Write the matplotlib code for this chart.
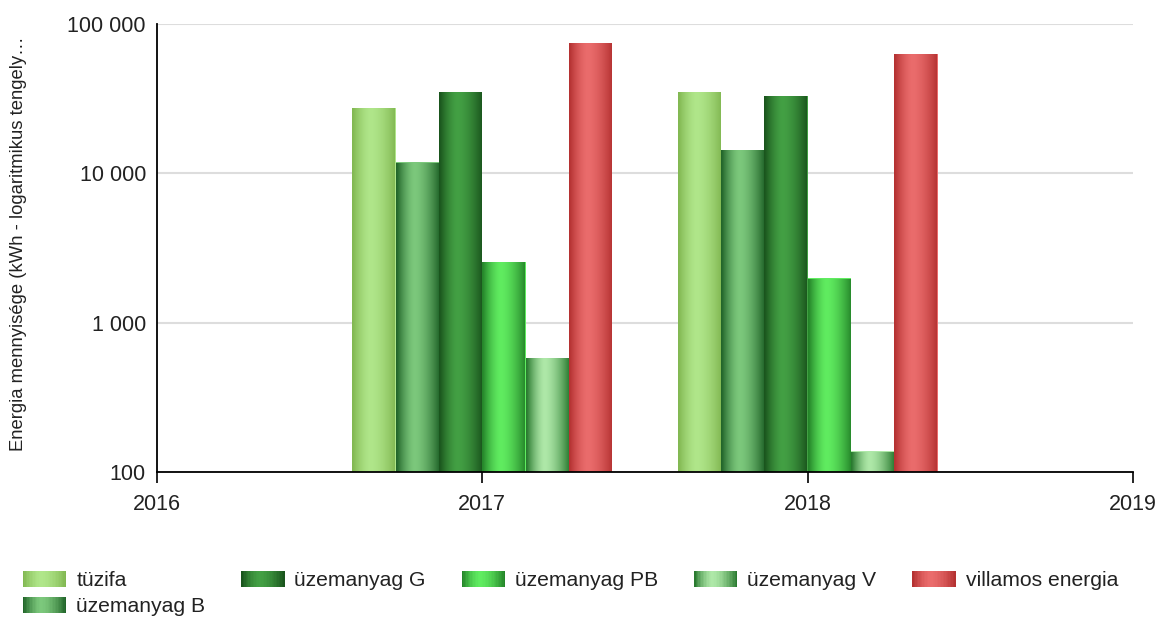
import matplotlib.pyplot as plt
import numpy as np
from matplotlib.colors import to_rgb
from matplotlib.legend_handler import HandlerBase
from matplotlib.patches import Patch, Rectangle
from matplotlib.ticker import FixedLocator, FuncFormatter, NullLocator

plt.rcParams["font.family"] = ["Liberation Sans", "DejaVu Sans"]

# Data
years = [2017, 2018]
series = ["tüzifa", "üzemanyag B", "üzemanyag G", "üzemanyag PB",
          "üzemanyag V", "villamos energia"]
tuzifa = [27400, 35100]
uzemanyag_b = [11900, 14400]
uzemanyag_g = [35100, 33000]
uzemanyag_pb = [2550, 1990]
uzemanyag_v = [580, 138]
villamos = [74700, 63000]
values = [tuzifa, uzemanyag_b, uzemanyag_g, uzemanyag_pb, uzemanyag_v, villamos]

# (edge, highlight) colours for the cylinder-like gradient
shades = [
    ("#82b852", "#b0e68a"),
    ("#22662a", "#7cc87c"),
    ("#1a551d", "#43a044"),
    ("#25862a", "#60ec60"),
    ("#2a7a30", "#aee8a8"),
    ("#b53232", "#ea6c6c"),
]

BASE = 100


def gradient(edge, light, n=60, peak=0.42):
    t = np.linspace(0, 1, n)
    d = np.where(t < peak, (peak - t) / peak, (t - peak) / (1 - peak))
    w = np.clip(1 - d ** 1.6, 0, 1)[:, None]
    return (1 - w) * np.array(to_rgb(edge)) + w * np.array(to_rgb(light))


class GradientHandler(HandlerBase):
    def __init__(self, cols):
        super().__init__()
        self.cols = cols

    def create_artists(self, legend, orig_handle, xdescent, ydescent,
                       width, height, fontsize, trans):
        n = len(self.cols)
        arts = []
        for i, c in enumerate(self.cols):
            arts.append(Rectangle((-xdescent + width * i / n, -ydescent),
                                  width / n * 1.05, height, facecolor=c,
                                  edgecolor="none", transform=trans))
        return arts


fig = plt.figure(figsize=(11.62, 6.21), dpi=100)
ax = fig.add_axes([157 / 1162, 1 - 472 / 621, 976 / 1162, 448 / 621])
ax.set_yscale("log")

width = 0.8 / len(series)
x = np.array(years, dtype=float)
handles, hmap = [], {}
for i, (name, vals, (edge, light)) in enumerate(zip(series, values, shades)):
    offs = x - 0.4 + width * (i + 0.5)
    heights = np.array(vals, dtype=float) - BASE
    bars = ax.bar(offs, heights, width=width, bottom=BASE, color=light,
                  edgecolor="none", zorder=3)
    cols = gradient(edge, light)
    for b, v in zip(bars, vals):
        x0, x1 = b.get_x(), b.get_x() + b.get_width()
        im = ax.imshow(cols[None, :, :], extent=(x0, x1, BASE, v),
                       aspect="auto", interpolation="bilinear", zorder=4)
        im.set_clip_path(b)
    h = Patch(label=name)
    handles.append(h)
    hmap[h] = GradientHandler(gradient(edge, light, n=30))

ax.set_xlim(2016, 2019)
ax.set_ylim(100, 100000)

ax.yaxis.set_major_locator(FixedLocator([100, 1000, 10000, 100000]))
ax.yaxis.set_minor_locator(NullLocator())
ax.yaxis.set_major_formatter(
    FuncFormatter(lambda v, p: format(int(round(v)), ",").replace(",", " ")))
ax.set_xticks([2016, 2017, 2018, 2019])
ax.xaxis.set_major_formatter(FuncFormatter(lambda v, p: f"{int(v)}"))

ax.grid(axis="y", color="#dddddd", linewidth=1.5, zorder=0)
ax.tick_params(axis="y", length=0, pad=8, labelsize=15.5, labelcolor="#222222")
ax.tick_params(axis="x", length=8, width=1.2, pad=8, labelsize=15.5,
               labelcolor="#222222", direction="out")
for s in ["top", "right"]:
    ax.spines[s].set_visible(False)
for s in ["left", "bottom"]:
    ax.spines[s].set_linewidth(1.3)
    ax.spines[s].set_zorder(5)

ax.set_ylabel("Energia mennyisége (kWh - logaritmikus tengely…", fontsize=13.3,
              color="#222222")
ax.yaxis.set_label_coords(-130 / 976, 0.51)

fig.legend(handles=handles, handler_map=hmap, loc="upper left",
           bbox_to_anchor=(23 / 1162, 1 - 571 / 621), ncol=5, frameon=False,
           fontsize=15.2, handlelength=2.05, handleheight=0.8, handletextpad=0.47,
           columnspacing=1.7, labelspacing=0.3, borderpad=0, borderaxespad=0,
           labelcolor="#222222")

fig.savefig("out.png", dpi=100)
